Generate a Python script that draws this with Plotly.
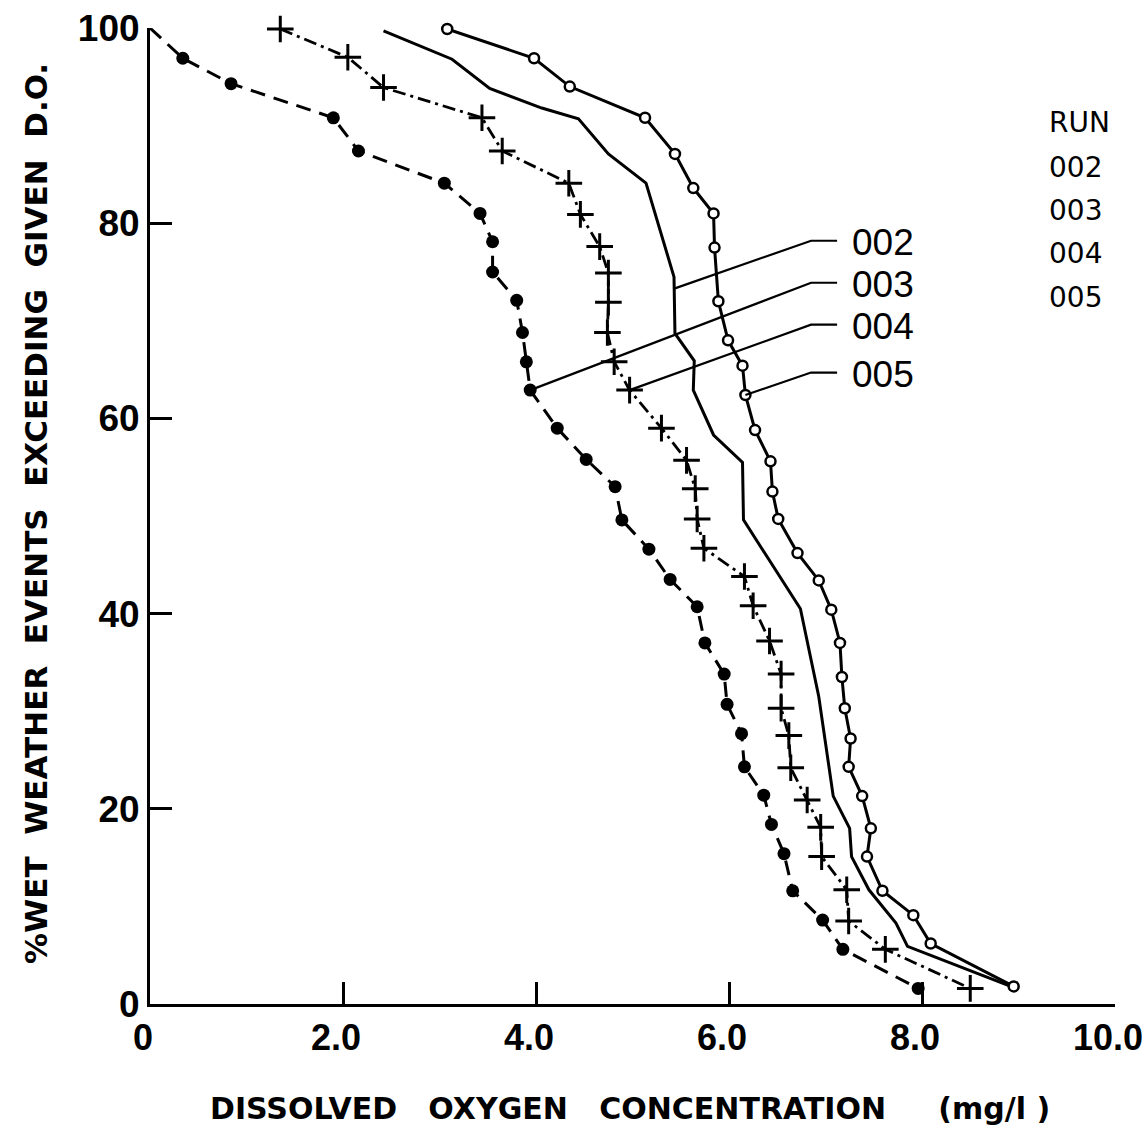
import numpy as np
import plotly.graph_objects as go

# ---------------- data ----------------
run_names = ["002", "003", "004", "005"]

# Run 002 : plain solid line
do_002 = [2.42, 3.13, 3.52, 4.06, 4.44, 4.75, 5.14, 5.43, 5.44, 5.64, 5.63, 5.84,
          6.14, 6.15, 6.74, 6.93, 7.08, 7.25, 7.27, 7.45, 7.73, 7.85, 8.92]
pct_002 = [99.7, 96.8, 93.8, 91.8, 90.7, 87.1, 84.1, 74.5, 68.7, 65.9, 62.9, 58.3,
           55.5, 49.6, 40.5, 31.5, 21.3, 18.0, 15.1, 11.7, 8.3, 5.9, 1.8]

# Run 003 : filled dots, dashed line (starts at the axis corner)
do_003 = [0.0, 0.34, 0.84, 1.90, 2.16, 3.05, 3.42, 3.55, 3.55, 3.80, 3.86, 3.90,
          3.94, 4.22, 4.52, 4.82, 4.89, 5.17, 5.39, 5.67, 5.75, 5.95, 5.98, 6.13,
          6.16, 6.36, 6.44, 6.57, 6.66, 6.97, 7.18, 7.96]
pct_003 = [100.0, 96.9, 94.3, 90.8, 87.4, 84.1, 81.0, 78.1, 75.0, 72.1, 68.8, 65.8,
           62.9, 59.0, 55.8, 53.0, 49.6, 46.6, 43.5, 40.7, 37.0, 33.8, 30.7, 27.7,
           24.3, 21.4, 18.4, 15.4, 11.6, 8.6, 5.6, 1.6]

# Run 004 : plus markers, dash-dot line
do_004 = [1.35, 2.05, 2.42, 3.44, 3.65, 4.34, 4.46, 4.66, 4.75, 4.75, 4.74, 4.81,
          4.97, 5.30, 5.56, 5.65, 5.67, 5.74, 6.16, 6.25, 6.42, 6.54, 6.54, 6.62,
          6.64, 6.81, 6.95, 6.96, 7.22, 7.24, 7.62, 8.50]
pct_004 = [99.9, 97.0, 93.9, 90.8, 87.4, 84.1, 80.9, 77.6, 74.9, 71.9, 68.8, 65.8,
           62.9, 59.0, 55.7, 52.8, 49.7, 46.7, 43.8, 40.8, 37.2, 33.8, 30.3, 27.5,
           24.2, 20.9, 18.1, 15.1, 11.7, 8.5, 5.6, 1.6]

# Run 005 : open circles, solid line
do_005 = [3.08, 3.98, 4.35, 5.13, 5.44, 5.63, 5.84, 5.85, 5.89, 5.99, 6.14, 6.17,
          6.27, 6.43, 6.45, 6.51, 6.71, 6.93, 7.06, 7.15, 7.17, 7.20, 7.26, 7.24,
          7.38, 7.47, 7.43, 7.59, 7.91, 8.09, 8.95]
pct_005 = [99.9, 96.9, 94.0, 90.8, 87.1, 83.6, 81.0, 77.5, 72.0, 68.0, 65.4, 62.4,
           58.8, 55.6, 52.5, 49.7, 46.2, 43.4, 40.4, 37.0, 33.5, 30.3, 27.2, 24.3,
           21.3, 18.0, 15.1, 11.6, 9.1, 6.2, 1.8]

x_tickvals = [0, 2, 4, 6, 8, 10]
x_ticktext = ["0", "2.0", "4.0", "6.0", "8.0", "10.0"]
y_tickvals = [0, 20, 40, 60, 80, 100]
y_ticktext = ["0", "20", "40", "60", "80", "100"]

NB = "\u00a0"
x_title = ("DISSOLVED" + NB * 3 + "OXYGEN" + NB * 3 + "CONCENTRATION"
           + NB * 5 + "(mg/l" + NB + ")")
y_title = (NB * 2).join(["%WET", "WEATHER", "EVENTS", "EXCEEDING", "GIVEN", "D.O."])
legend_title = "RUN"

# ---------------- styling ----------------
INK = "black"
TICK_FONT = "Liberation Sans, Arial, sans-serif"
TITLE_FONT = "DejaVu Sans, Verdana, sans-serif"
LABEL_FONT = "Liberation Sans, Arial, sans-serif"

fig = go.Figure()

# 002 – solid line
fig.add_trace(go.Scatter(x=do_002, y=pct_002, mode="lines",
                         line=dict(color=INK, width=3), cliponaxis=False,
                         showlegend=False))

# 003 – dashed with filled dots (no dot on the corner start point)
sizes_003 = [0] + [13] * (len(do_003) - 1)
fig.add_trace(go.Scatter(x=do_003, y=pct_003, mode="lines+markers",
                         line=dict(color=INK, width=3, dash="15px,9px"),
                         marker=dict(symbol="circle", size=sizes_003, color=INK,
                                     opacity=1, line=dict(width=0)),
                         cliponaxis=False, showlegend=False))

# 004 – dash-dot with plus markers
fig.add_trace(go.Scatter(x=do_004, y=pct_004, mode="lines+markers",
                         line=dict(color=INK, width=2.8, dash="13px,5px,3px,5px"),
                         marker=dict(symbol="cross-thin", size=19,
                                     line=dict(color=INK, width=3)),
                         cliponaxis=False, showlegend=False))

# 005 – solid with open circles
fig.add_trace(go.Scatter(x=do_005, y=pct_005, mode="lines+markers",
                         line=dict(color=INK, width=3),
                         marker=dict(symbol="circle", size=10, color="white",
                                     line=dict(color=INK, width=2.5)),
                         cliponaxis=False, showlegend=False))

# ---------------- leader lines with run labels ----------------
anchor_002_pct = 73.3
anchor_002_do = float(np.interp(anchor_002_pct, pct_002[::-1], do_002[::-1]))
anchors = [
    (anchor_002_do, anchor_002_pct),
    (do_003[12], pct_003[12]),
    (do_004[12], pct_004[12]),
    (do_005[11], pct_005[11]),
]
label_levels = [78.2, 73.9, 69.6, 64.7]
elbow_x = 6.85
end_x = 7.12
for (ax_, ay_), lvl, name in zip(anchors, label_levels, run_names):
    fig.add_trace(go.Scatter(x=[ax_, elbow_x, end_x], y=[ay_, lvl, lvl],
                             mode="lines", line=dict(color=INK, width=2.2),
                             cliponaxis=False, showlegend=False, hoverinfo="skip"))
    fig.add_annotation(x=end_x + 0.14, y=lvl - 0.2, xref="x", yref="y",
                       text=name, showarrow=False, xanchor="left", yanchor="middle",
                       borderpad=0,
                       font=dict(family=LABEL_FONT, size=37, color=INK))

# ---------------- RUN key at top right ----------------
key_y_px = [122, 167, 210, 253, 297]
for txt, ypx in zip([legend_title] + run_names, key_y_px):
    fig.add_annotation(x=(1048 - 150) / 965, y=(1004 - ypx) / 976,
                       xref="paper", yref="paper", text=txt, showarrow=False,
                       xanchor="left", yanchor="middle", borderpad=0,
                       font=dict(family=TITLE_FONT, size=28, color=INK))

# ---------------- axis titles ----------------
fig.add_annotation(x=(630 - 150) / 965, y=(1004 - 1108) / 976, xref="paper",
                   yref="paper", text="<b>" + x_title + "</b>", showarrow=False,
                   xanchor="center", yanchor="middle",
                   font=dict(family=TITLE_FONT, size=30, color=INK))
fig.add_annotation(x=(36 - 150) / 965, y=(1004 - 514) / 976, xref="paper",
                   yref="paper", text="<b>" + y_title + "</b>", showarrow=False,
                   textangle=-90, xanchor="center", yanchor="middle",
                   font=dict(family=TITLE_FONT, size=31, color=INK))

fig.update_layout(
    width=1144, height=1138,
    margin=dict(l=150, r=29, t=28, b=134, autoexpand=False),
    paper_bgcolor="white", plot_bgcolor="white",
    showlegend=False,
    font=dict(family=TICK_FONT, color=INK),
    xaxis=dict(range=[0, 10], showgrid=False, zeroline=False, automargin=False,
               showline=True, linecolor=INK, linewidth=3,
               ticks="inside", ticklen=22, tickwidth=3, tickcolor=INK,
               tickvals=x_tickvals, ticktext=x_ticktext,
               ticklabeloverflow="allow", ticklabelshift=-7,
               tickfont=dict(family=TICK_FONT, size=36, color=INK, weight="bold")),
    yaxis=dict(range=[0, 100], showgrid=False, zeroline=False, automargin=False,
               showline=True, linecolor=INK, linewidth=3,
               ticks="inside", ticklen=22, tickwidth=3, tickcolor=INK,
               tickvals=y_tickvals, ticktext=y_ticktext,
               ticklabeloverflow="allow",
               tickfont=dict(family=TICK_FONT, size=37, color=INK, weight="bold")),
)

fig.write_html("out.html")
